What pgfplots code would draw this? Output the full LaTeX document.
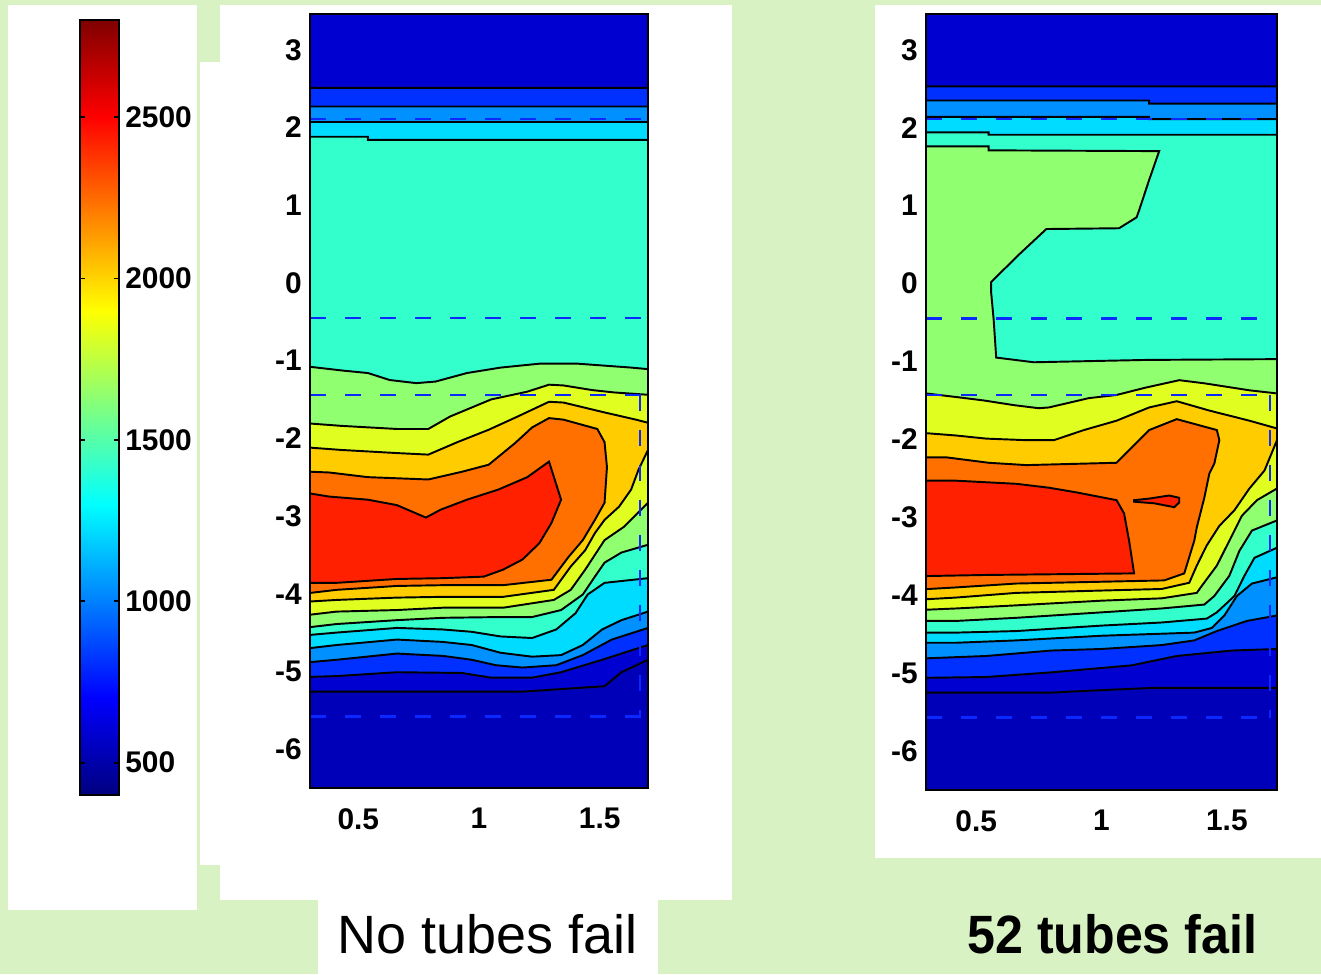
\documentclass[border=0pt]{standalone}
\usepackage{graphicx}
\usepackage{pgfplots}
\pgfplotsset{compat=1.18}
\usepackage{fontspec}
\setmainfont{Liberation Sans}

\definecolor{bg}{RGB}{217,242,195}
\definecolor{c0}{HTML}{0000B8}
\definecolor{c1}{HTML}{0000D0}
\definecolor{c2}{HTML}{0030FF}
\definecolor{c3}{HTML}{0090FF}
\definecolor{c4}{HTML}{00DCFF}
\definecolor{c5}{HTML}{33FFCC}
\definecolor{c6}{HTML}{90FF70}
\definecolor{c7}{HTML}{E0FF20}
\definecolor{c8}{HTML}{FFCC00}
\definecolor{c9}{HTML}{FF7000}
\definecolor{c10}{HTML}{FF2000}
\definecolor{guideblue}{HTML}{0A28FF}

\newcommand{\tickfont}{\fontsize{17}{17}\selectfont\bfseries}

\pgfplotsset{
  contourax/.style={
    scale only axis, anchor=south west,
    xmin=0.3, xmax=1.7, ymin=-6.5, ymax=3.46,
    xtick={0.5,1,1.5}, xticklabels={0.5,1,1.5},
    ytick={-6,-5,-4,-3,-2,-1,0,1,2,3},
    yticklabels={-6,-5,-4,-3,-2,-1,0,1,2,3},
    major tick length=0pt,
    tick label style={font=\tickfont},
    xticklabel style={inner sep=0pt, yshift=-0.4cm},
    yticklabel style={inner sep=0pt, xshift=-0.16cm},
    axis background/.style={fill=c0},
    axis line style={line width=1pt},
    axis on top,
  },
  band/.style={fill=#1, draw=black, line width=1.1pt},
  guide/.style={draw=guideblue, line width=1.3pt, dash pattern=on 0.32cm off 0.38cm},
}

\begin{document}
\begin{tikzpicture}
% background and white panels
\fill[bg] (0,0) rectangle (26.42,19.48);
\fill[white] (0.16,1.28) rectangle (3.94,19.38);
\fill[white] (4.00,2.18) rectangle (4.40,18.24);
\fill[white] (4.40,1.48) rectangle (14.64,19.38);
\fill[white] (6.36,0) rectangle (13.16,1.48);
\fill[white] (17.50,2.32) rectangle (26.42,19.38);

%-- colour scale
\begin{axis}[scale only axis, anchor=south west, at={(1.60cm,3.58cm)},
  width=0.78cm, height=15.5cm,
  xmin=0, xmax=1, ymin=400, ymax=2800,
  xtick=\empty,
  ytick={500,1000,1500,2000,2500},
  yticklabels={500,1000,1500,2000,2500},
  yticklabel pos=right, ytick pos=both,
  major tick length=0.1cm, tick align=inside,
  tick style={black, line width=0.9pt},
  axis line style={line width=0.9pt},
  yticklabel style={font=\tickfont, inner sep=0pt, xshift=0.12cm},
  colormap/jet, point meta min=400, point meta max=2800,
  axis on top]
\addplot[surf, shader=interp, point meta=y, mesh/cols=2] coordinates {
  (0,400) (1,400)
  (0,2800) (1,2800)
};
\end{axis}

%-- left: no tubes fail
\begin{axis}[contourax, at={(6.20cm,3.72cm)}, width=6.76cm, height=15.48cm]
\addplot[band=c1] coordinates {(0.2,3.6)(1.8,3.6)(1.8,-4.85)(1.7,-4.85)(1.59,-5.01)(1.52,-5.19)(1.18,-5.26)(0.2,-5.26)} -- cycle;
\addplot[band=c2] coordinates {(0.2,2.51)(1.8,2.51)(1.8,-4.66)(1.7,-4.66)(1.51,-4.85)(1.34,-5.01)(1.22,-5.08)(1.05,-5.08)(0.93,-5.02)(0.66,-5.01)(0.41,-5.06)(0.3,-5.07)(0.2,-5.07)} -- cycle;
\addplot[band=c3] coordinates {(0.2,2.27)(1.8,2.27)(1.8,-4.44)(1.7,-4.44)(1.55,-4.59)(1.43,-4.79)(1.32,-4.92)(1.18,-4.95)(1.07,-4.92)(0.97,-4.85)(0.85,-4.80)(0.66,-4.77)(0.41,-4.85)(0.3,-4.88)(0.2,-4.88)} -- cycle;
\addplot[band=c4] coordinates {(0.2,2.07)(1.8,2.07)(1.8,-4.23)(1.7,-4.23)(1.59,-4.34)(1.51,-4.46)(1.43,-4.66)(1.34,-4.79)(1.22,-4.81)(1.09,-4.76)(0.97,-4.66)(0.85,-4.62)(0.66,-4.59)(0.41,-4.66)(0.3,-4.70)(0.2,-4.70)} -- cycle;
\addplot[band=c5] coordinates {(0.2,1.88)(0.54,1.88)(0.54,1.84)(1.8,1.84)(1.8,-3.80)(1.7,-3.80)(1.52,-3.86)(1.45,-4.01)(1.40,-4.25)(1.32,-4.46)(1.22,-4.57)(1.09,-4.55)(0.97,-4.49)(0.85,-4.46)(0.66,-4.44)(0.41,-4.50)(0.3,-4.53)(0.2,-4.53)} -- cycle;
\addplot[band=c6] coordinates {(0.2,-1.08)(0.3,-1.08)(0.44,-1.13)(0.54,-1.16)(0.63,-1.25)(0.74,-1.29)(0.82,-1.27)(0.95,-1.16)(1.09,-1.09)(1.25,-1.04)(1.41,-1.04)(1.63,-1.09)(1.7,-1.11)(1.8,-1.11)(1.8,-3.37)(1.7,-3.37)(1.59,-3.47)(1.52,-3.60)(1.48,-3.78)(1.43,-4.01)(1.34,-4.21)(1.22,-4.30)(1.09,-4.30)(0.85,-4.31)(0.66,-4.34)(0.41,-4.39)(0.3,-4.43)(0.2,-4.43)} -- cycle;
\addplot[band=c7] coordinates {(0.2,-1.81)(0.3,-1.81)(0.43,-1.84)(0.66,-1.88)(0.79,-1.88)(0.88,-1.72)(1.05,-1.50)(1.20,-1.40)(1.29,-1.31)(1.35,-1.32)(1.47,-1.38)(1.56,-1.41)(1.7,-1.44)(1.8,-1.44)(1.8,-2.83)(1.7,-2.83)(1.60,-3.14)(1.52,-3.31)(1.48,-3.50)(1.44,-3.69)(1.38,-3.95)(1.31,-4.08)(1.10,-4.18)(0.85,-4.18)(0.66,-4.21)(0.41,-4.23)(0.3,-4.27)(0.2,-4.27)} -- cycle;
\addplot[band=c8] coordinates {(0.2,-2.12)(0.3,-2.12)(0.43,-2.15)(0.66,-2.19)(0.79,-2.21)(0.91,-2.05)(1.04,-1.89)(1.16,-1.72)(1.29,-1.53)(1.35,-1.54)(1.51,-1.66)(1.65,-1.76)(1.7,-1.80)(1.8,-1.80)(1.8,-2.15)(1.7,-2.15)(1.66,-2.41)(1.63,-2.66)(1.58,-2.88)(1.52,-3.05)(1.48,-3.22)(1.44,-3.44)(1.38,-3.65)(1.31,-3.95)(1.10,-4.04)(0.85,-4.04)(0.66,-4.05)(0.41,-4.08)(0.3,-4.10)(0.2,-4.10)} -- cycle;
\addplot[band=c9] coordinates {(0.2,-2.43)(0.3,-2.43)(0.38,-2.44)(0.54,-2.50)(0.79,-2.53)(0.93,-2.43)(1.04,-2.34)(1.15,-2.06)(1.22,-1.86)(1.29,-1.74)(1.35,-1.76)(1.49,-1.88)(1.52,-2.05)(1.53,-2.37)(1.52,-2.83)(1.48,-3.05)(1.43,-3.31)(1.37,-3.53)(1.30,-3.82)(1.10,-3.89)(0.85,-3.89)(0.66,-3.90)(0.41,-3.95)(0.3,-3.99)(0.2,-3.99)} -- cycle;
\addplot[band=c10] coordinates {(0.2,-2.71)(0.3,-2.71)(0.38,-2.75)(0.54,-2.79)(0.66,-2.86)(0.78,-3.02)(0.84,-2.92)(0.95,-2.79)(1.08,-2.66)(1.20,-2.50)(1.29,-2.30)(1.34,-2.79)(1.30,-3.09)(1.25,-3.35)(1.18,-3.56)(1.10,-3.69)(1.02,-3.78)(0.85,-3.80)(0.66,-3.81)(0.41,-3.86)(0.3,-3.86)(0.2,-3.86)} -- cycle;
% dashed guides
\addplot[guide] coordinates {(0.3,2.11)(1.8,2.11)};
\addplot[guide] coordinates {(0.3,-0.45)(1.8,-0.45)};
\addplot[guide] coordinates {(0.3,-1.44)(1.8,-1.44)};
\addplot[guide] coordinates {(0.3,-5.58)(1.8,-5.58)};
\addplot[guide] coordinates {(1.667,-1.44)(1.667,-5.58)};
\end{axis}

%-- right: 52 tubes fail
\begin{axis}[contourax, at={(18.52cm,3.68cm)}, width=7.02cm, height=15.52cm]
\addplot[band=c1] coordinates {(0.2,3.6)(1.8,3.6)(1.8,-5.19)(1.20,-5.19)(0.92,-5.23)(0.80,-5.25)(0.2,-5.25)} -- cycle;
\addplot[band=c2] coordinates {(0.2,2.53)(1.8,2.53)(1.8,-4.69)(1.7,-4.69)(1.52,-4.71)(1.30,-4.78)(1.12,-4.90)(0.80,-4.99)(0.54,-5.05)(0.3,-5.06)(0.2,-5.06)} -- cycle;
\addplot[band=c3] coordinates {(0.2,2.35)(1.19,2.35)(1.19,2.31)(1.8,2.31)(1.8,-4.26)(1.7,-4.26)(1.58,-4.33)(1.46,-4.46)(1.37,-4.58)(1.24,-4.64)(1.00,-4.69)(0.80,-4.71)(0.54,-4.78)(0.3,-4.81)(0.2,-4.81)} -- cycle;
\addplot[band=c4] coordinates {(0.2,2.14)(1.19,2.14)(1.19,2.11)(1.8,2.11)(1.8,-3.77)(1.7,-3.77)(1.60,-3.85)(1.54,-4.01)(1.49,-4.26)(1.44,-4.42)(1.37,-4.48)(1.00,-4.52)(0.66,-4.58)(0.42,-4.61)(0.2,-4.61)} -- cycle;
\addplot[band=c5] coordinates {(0.2,1.94)(0.55,1.94)(0.55,1.91)(1.8,1.91)(1.8,-3.39)(1.7,-3.39)(1.61,-3.52)(1.57,-3.75)(1.53,-4.01)(1.46,-4.22)(1.42,-4.30)(1.24,-4.35)(1.00,-4.39)(0.66,-4.46)(0.42,-4.48)(0.2,-4.48)} -- cycle;
\addplot[band=c6] coordinates {(0.2,1.76)(0.55,1.76)(0.55,1.71)(1.23,1.70)(1.19,1.33)(1.15,0.94)(1.14,0.85)(1.07,0.71)(0.78,0.70)(0.67,0.37)(0.56,0.02)(0.56,-0.12)(0.57,-0.47)(0.58,-0.95)(0.63,-0.97)(0.73,-1.01)(1.18,-0.98)(1.7,-0.97)(1.8,-0.97)(1.8,-3.04)(1.7,-3.04)(1.60,-3.17)(1.55,-3.43)(1.51,-3.75)(1.45,-4.01)(1.41,-4.12)(1.24,-4.17)(1.00,-4.22)(0.66,-4.29)(0.42,-4.33)(0.2,-4.33)} -- cycle;
\addplot[band=c7] coordinates {(0.2,-1.41)(0.3,-1.41)(0.43,-1.46)(0.53,-1.50)(0.65,-1.56)(0.75,-1.60)(0.79,-1.59)(0.95,-1.47)(1.06,-1.43)(1.17,-1.34)(1.31,-1.24)(1.41,-1.28)(1.59,-1.37)(1.7,-1.41)(1.8,-1.41)(1.8,-2.63)(1.7,-2.63)(1.62,-2.78)(1.56,-2.98)(1.51,-3.30)(1.46,-3.62)(1.40,-3.88)(1.38,-3.97)(1.24,-4.04)(1.00,-4.07)(0.66,-4.13)(0.42,-4.17)(0.2,-4.20)} -- cycle;
\addplot[band=c8] coordinates {(0.2,-1.92)(0.3,-1.92)(0.42,-1.95)(0.54,-1.99)(0.70,-2.01)(0.81,-2.01)(0.93,-1.88)(1.06,-1.76)(1.19,-1.59)(1.30,-1.51)(1.43,-1.63)(1.59,-1.76)(1.7,-1.86)(1.8,-1.86)(1.8,-2.01)(1.7,-2.01)(1.65,-2.40)(1.59,-2.63)(1.53,-2.91)(1.47,-3.11)(1.42,-3.36)(1.38,-3.62)(1.35,-3.84)(1.24,-3.92)(1.00,-3.94)(0.66,-3.97)(0.42,-4.03)(0.2,-4.07)} -- cycle;
\addplot[band=c9] coordinates {(0.2,-2.23)(0.38,-2.23)(0.55,-2.30)(0.70,-2.33)(1.06,-2.30)(1.19,-1.88)(1.30,-1.74)(1.46,-1.88)(1.47,-2.01)(1.45,-2.31)(1.43,-2.44)(1.41,-2.75)(1.38,-3.13)(1.37,-3.30)(1.33,-3.72)(1.25,-3.81)(0.66,-3.85)(0.42,-3.90)(0.2,-3.94)} -- cycle;
\addplot[band=c10] coordinates {(0.2,-2.53)(0.42,-2.53)(0.66,-2.57)(0.79,-2.62)(0.90,-2.68)(1.06,-2.78)(1.09,-2.95)(1.11,-3.30)(1.13,-3.72)(0.54,-3.74)(0.2,-3.76)} -- cycle;
\addplot[band=c10] coordinates {(1.13,-2.78)(1.19,-2.76)(1.27,-2.72)(1.31,-2.75)(1.31,-2.81)(1.29,-2.87)(1.21,-2.82)(1.13,-2.80)} -- cycle;
% dashed guides
\addplot[guide] coordinates {(0.3,2.11)(1.8,2.11)};
\addplot[guide] coordinates {(0.3,-0.45)(1.8,-0.45)};
\addplot[guide] coordinates {(0.3,-1.43)(1.8,-1.43)};
\addplot[guide] coordinates {(0.3,-5.57)(1.8,-5.57)};
\addplot[guide] coordinates {(1.672,-1.43)(1.672,-5.57)};
\end{axis}

% captions
\node[anchor=base west, inner sep=0pt, font=\fontsize{30.7}{30.7}\selectfont] at (6.74,0.42) {No tubes fail};
\node[anchor=base west, inner sep=0pt, font=\fontsize{30.7}{30.7}\selectfont\bfseries] at (19.34,0.42) {\scalebox{0.93}[1]{52 tubes fail}};
\end{tikzpicture}
\end{document}
